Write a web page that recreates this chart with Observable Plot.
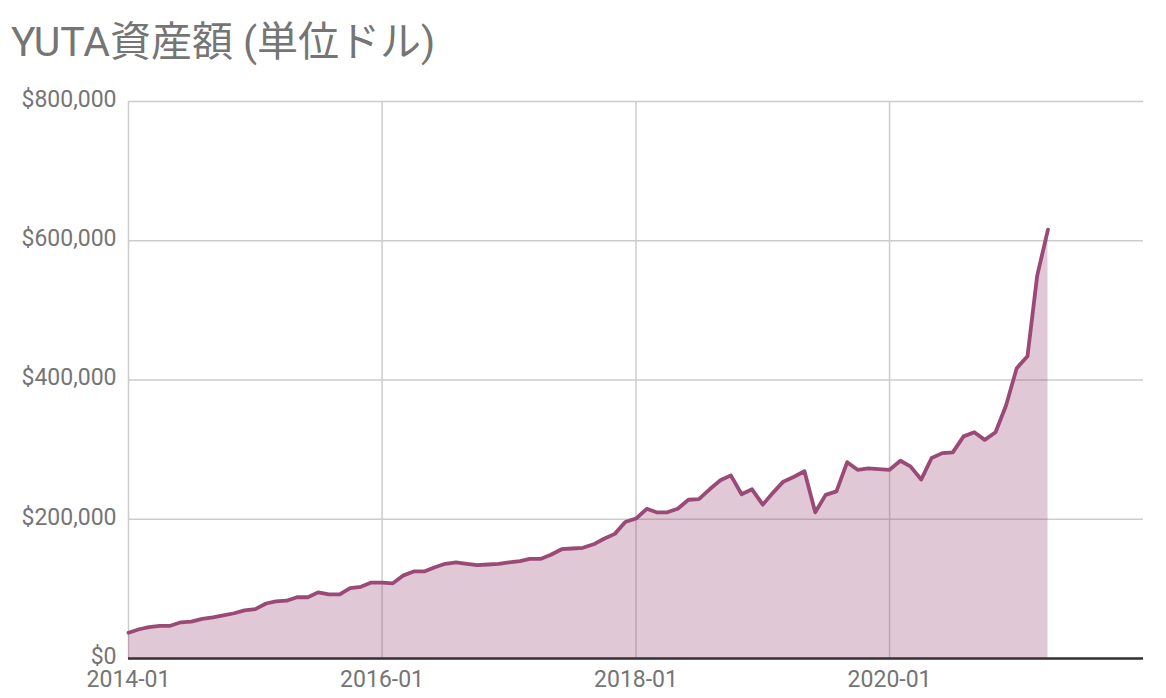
<!DOCTYPE html>
<html>
<head>
<meta charset="utf-8">
<script src="https://cdn.jsdelivr.net/npm/d3@7"></script>
<script src="https://cdn.jsdelivr.net/npm/@observablehq/plot@0.6"></script>
<style>
  html, body { margin: 0; padding: 0; background: #fff; }
  body { width: 1166px; height: 698px; overflow: hidden; font-family: Roboto, "Noto Sans CJK JP", sans-serif; }
  #title { height: 80px; box-sizing: border-box; padding: 22px 0 0 11px; font-size: 41px; line-height: 41px; color: #757575; white-space: nowrap; }
  #chart svg { display: block; }
</style>
</head>
<body>
<div id="title">YUTA資産額 (単位ドル)</div>
<div id="chart"></div>
<script>
const titleText = "YUTA資産額 (単位ドル)";
const months = [
  "2014-01","2014-02","2014-03","2014-04","2014-05","2014-06","2014-07","2014-08","2014-09","2014-10","2014-11","2014-12",
  "2015-01","2015-02","2015-03","2015-04","2015-05","2015-06","2015-07","2015-08","2015-09","2015-10","2015-11","2015-12",
  "2016-01","2016-02","2016-03","2016-04","2016-05","2016-06","2016-07","2016-08","2016-09","2016-10","2016-11","2016-12",
  "2017-01","2017-02","2017-03","2017-04","2017-05","2017-06","2017-07","2017-08","2017-09","2017-10","2017-11","2017-12",
  "2018-01","2018-02","2018-03","2018-04","2018-05","2018-06","2018-07","2018-08","2018-09","2018-10","2018-11","2018-12",
  "2019-01","2019-02","2019-03","2019-04","2019-05","2019-06","2019-07","2019-08","2019-09","2019-10","2019-11","2019-12",
  "2020-01","2020-02","2020-03","2020-04","2020-05","2020-06","2020-07","2020-08","2020-09","2020-10","2020-11","2020-12",
  "2021-01","2021-02","2021-03","2021-04"
];
const assets = [
  37000, 42000, 45000, 47000, 47000, 52000, 53000, 57000, 59000, 62000, 65000, 69000,
  71000, 79000, 82000, 83000, 88000, 88000, 95000, 92000, 92000, 101000, 103000, 109000,
  109000, 108000, 119000, 125000, 125000, 131000, 136000, 138000, 136000, 134000, 135000, 136000,
  138000, 140000, 143000, 143000, 149000, 157000, 158000, 159000, 164000, 172000, 179000, 196000,
  201000, 215000, 210000, 210000, 215000, 228000, 229000, 243000, 256000, 263000, 236000, 243000,
  221000, 239000, 254000, 261000, 269000, 210000, 235000, 240000, 282000, 271000, 273000, 272000,
  271000, 284000, 276000, 257000, 288000, 295000, 296000, 319000, 325000, 314000, 325000, 363000,
  417000, 434000, 550000, 616000
];
const xTickLabels = ["2014-01", "2016-01", "2018-01", "2020-01"];
const xDomainLabels = ["2014-01", "2022-01"];
const yTicks = [0, 200000, 400000, 600000, 800000];

const parse = d3.utcParse("%Y-%m");
const data = months.map((m, i) => ({date: parse(m), value: assets[i]}));
const xTicks = xTickLabels.map(parse);
const lineColor = "#9a4a76";

const chart = Plot.plot({
  width: 1166,
  height: 618,
  marginTop: 21,
  marginBottom: 40,
  marginLeft: 128,
  marginRight: 23,
  style: {fontFamily: 'Roboto, "Noto Sans CJK JP", sans-serif', fontSize: "23px", color: "#757575", background: "#fff"},
  x: {type: "utc", domain: xDomainLabels.map(parse)},
  y: {domain: [0, 800000]},
  marks: [
    Plot.gridY(yTicks, {stroke: "#cccccc", strokeOpacity: 1, strokeWidth: 1.5}),
    Plot.gridX(xTicks, {stroke: "#cccccc", strokeOpacity: 1, strokeWidth: 1.5}),
    Plot.areaY(data, {x: "date", y: "value", fill: lineColor, fillOpacity: 0.3}),
    Plot.lineY(data, {x: "date", y: "value", stroke: lineColor, strokeWidth: 3.8}),
    Plot.ruleY([0], {stroke: "#333333", strokeWidth: 2.5}),
    Plot.axisY(yTicks, {tickSize: 0, tickPadding: 12, dy: -2, tickFormat: d => "$" + d3.format(",")(d), label: null}),
    Plot.axisX(xTicks, {tickSize: 0, tickPadding: 12, tickFormat: d3.utcFormat("%Y-%m"), label: null})
  ]
});
document.getElementById("chart").appendChild(chart);
</script>
</body>
</html>
